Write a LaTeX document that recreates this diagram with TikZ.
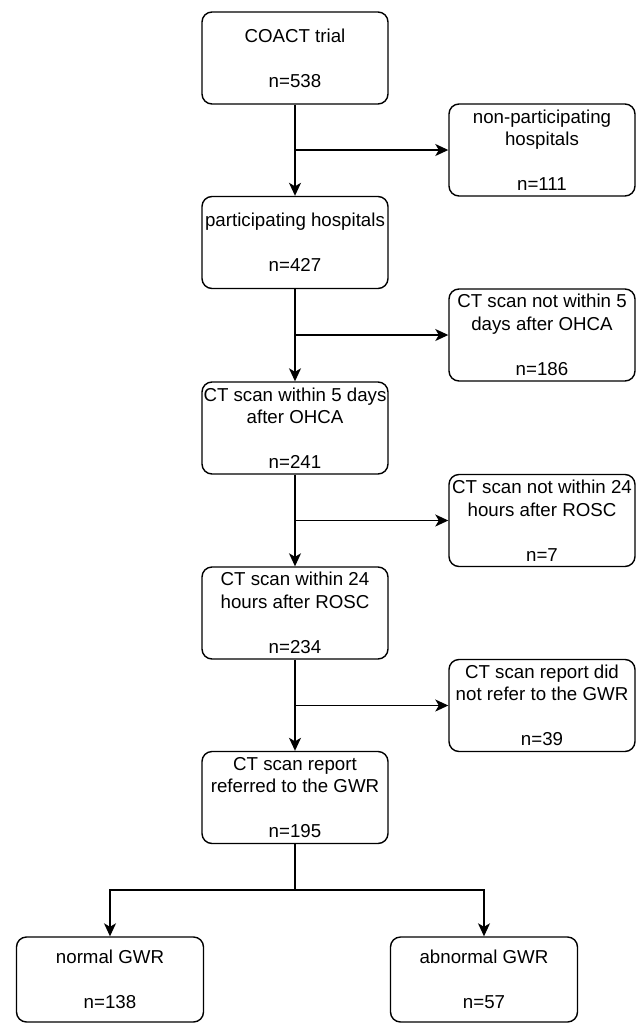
\documentclass[tikz,border=0pt]{standalone}
\usepackage{fontspec}
\setmainfont{Liberation Sans}
\usetikzlibrary{arrows.meta,positioning}
\tikzset{
  flowbox/.style={draw,rounded corners=10bp,line width=1.4bp,minimum width=186bp,minimum height=92bp,inner sep=0pt,align=center},
  endbox/.style={flowbox,minimum width=187bp,minimum height=85bp},
  flowarr/.style={->,line width=1.4bp},
  flowline/.style={line width=1.4bp}
}

\begin{document}
\begin{tikzpicture}[x=1bp,y=-1bp,>={Stealth[length=13bp,width=12bp,inset=3.5bp]},font=\fontsize{18.7bp}{22.5bp}\selectfont]
  \useasboundingbox (0,0) rectangle (638,1023);
  \node[flowbox] (b1) at (295,58) {COACT trial\\[22.5bp]n=538};
  \node[flowbox] (b2) at (295,242.5) {participating hospitals\\[22.5bp]n=427};
  \node[flowbox] (b3) at (295,428) {CT scan within 5 days\\after OHCA\\[22.5bp]n=241};
  \node[flowbox] (b4) at (295,613) {CT scan within 24\\hours after ROSC\\[22.5bp]n=234};
  \node[flowbox] (b5) at (295,797.5) {CT scan report\\referred to the GWR\\[22.5bp]n=195};
  \node[flowbox] (s1) at (542,150) {non-participating\\hospitals\\[22.5bp]n=111};
  \node[flowbox] (s2) at (542,335) {CT scan not within 5\\days after OHCA\\[22.5bp]n=186};
  \node[flowbox] (s3) at (542,520.5) {CT scan not within 24\\hours after ROSC\\[22.5bp]n=7};
  \node[flowbox] (s4) at (542,705.5) {CT scan report did\\not refer to the GWR\\[22.5bp]n=39};
  \node[endbox] (g1) at (110,979.5) {normal GWR\\[22.5bp]n=138};
  \node[endbox] (g2) at (484,979.5) {abnormal GWR\\[22.5bp]n=57};
  \coordinate (split) at (295,890);
  \draw[flowarr] (b1) -- (b2);
  \draw[flowarr] (b2) -- (b3);
  \draw[flowarr] (b3) -- (b4);
  \draw[flowarr] (b4) -- (b5);
  \draw[flowarr] (b1 |- s1) -- (s1);
  \draw[flowarr] (b2 |- s2) -- (s2);
  \draw[flowarr] (b3 |- s3) -- (s3);
  \draw[flowarr] (b4 |- s4) -- (s4);
  \draw[flowline] (b5) -- (split);
  \draw[flowarr] (split) -| (g1);
  \draw[flowarr] (split) -| (g2);
\end{tikzpicture}
\end{document}
